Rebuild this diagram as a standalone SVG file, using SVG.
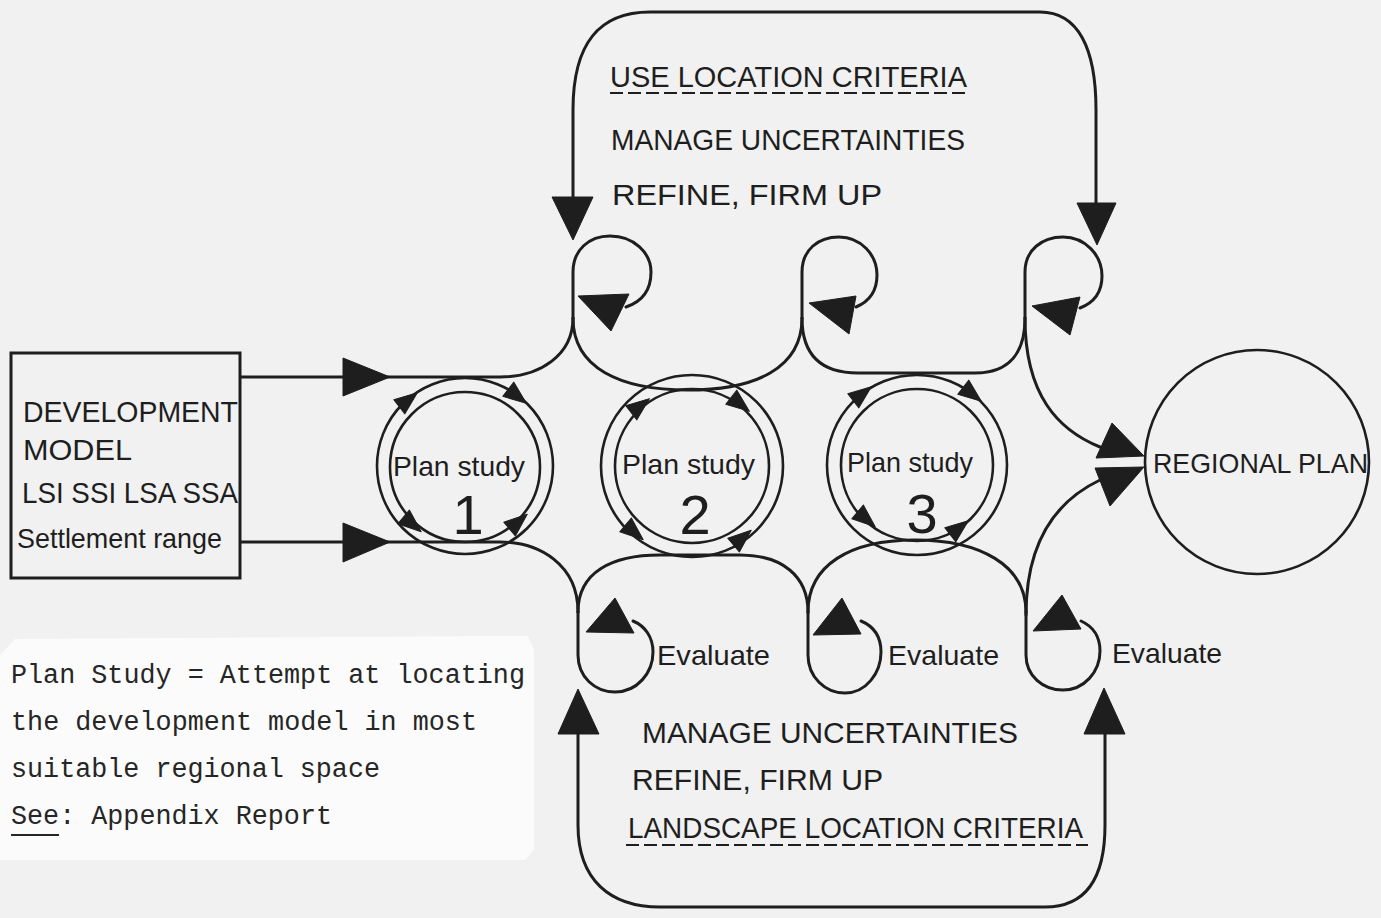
<svg xmlns="http://www.w3.org/2000/svg" xmlns:xlink="http://www.w3.org/1999/xlink" width="1381" height="918" viewBox="0 0 1381 918">
<style>
.ln{fill:none;stroke:#1e1e1e;stroke-width:3;stroke-linecap:round;stroke-linejoin:round}
.ci{fill:none;stroke:#1e1e1e;stroke-width:2.6}
.ah{fill:#1e1e1e;stroke:#1e1e1e;stroke-width:1;stroke-linejoin:round}
.t{font-family:"Liberation Sans","Arial",sans-serif;fill:#1e1e1e}
.mono{font-family:"Liberation Mono","Courier New",monospace;fill:#262626;font-size:26.8px}
.dash{fill:none;stroke:#1e1e1e;stroke-width:2.2;stroke-dasharray:13 5}
</style>
<defs>
<path id="sa" d="M12,0 L-11,-9 L-11,9 Z"/>
</defs>
<rect x="0" y="0" width="1381" height="918" fill="#f1f1f1"/>
<polygon points="0,655 15,639 528,636 534,650 534,850 525,860 0,860" fill="#fbfbfb"/>

<g id="connectors">
  <!-- inputs from development model -->
  <path class="ln" d="M241,377 H500 C540,377 573,355 573,318"/>
  <polygon class="ah" points="343,358 343,396 390,377"/>
  <path class="ln" d="M241,542 H500 C540,542 578,565 578,612"/>
  <polygon class="ah" points="343,523 343,562 390,542"/>

  <!-- top big loop -->
  <path class="ln" d="M573,200 V110 C573,42 600,12 650,12 H1040 C1078,12 1096,48 1096,110 V205"/>
  <polygon class="ah" points="552,197 593,197 573,240"/>
  <polygon class="ah" points="1077,203 1116,203 1097,245"/>

  <!-- top small loops -->
  <path class="ln" d="M573,318 V272 C573,250 589,236 610,236 C634,236 651,253 651,272 C651,291 641,302 626,307"/>
  <polygon class="ah" points="578,296 629,294 611,331"/>
  <path class="ln" d="M802,318 V272 C802,250 818,237 839,237 C861,237 877,255 877,275 C877,292 868,302 856,307"/>
  <polygon class="ah" points="809,303 856,296 849,334"/>
  <path class="ln" d="M1025,318 V272 C1025,250 1042,237 1063,237 C1085,237 1102,255 1102,276 C1102,293 1093,303 1080,308"/>
  <polygon class="ah" points="1032,306 1080,297 1070,335"/>

  <!-- top connectors between loops -->
  <path class="ln" d="M573,318 C573,368 620,390 688,390 C756,390 802,368 802,318"/>
  <path class="ln" d="M802,318 C802,352 818,373 858,373 H975 C1010,373 1025,352 1025,318"/>
  <path class="ln" d="M1025,318 C1025,395 1058,430 1100,447"/>
  <polygon class="ah" points="1096,458 1112,423 1144,456"/>

  <!-- bottom connectors between evaluate loops -->
  <path class="ln" d="M578,612 C578,572 612,555 660,555 H740 C782,555 808,576 808,612"/>
  <path class="ln" d="M808,612 C808,565 850,540 915,540 C980,540 1026,565 1026,612"/>
  <path class="ln" d="M1026,615 C1026,540 1058,500 1100,480"/>
  <polygon class="ah" points="1095,468 1144,467 1110,506"/>

  <!-- evaluate loops -->
  <path class="ln" d="M578,612 V655 C578,677 595,692 615,692 C637,692 653,673 653,652 C653,637 645,626 633,621"/>
  <polygon class="ah" points="586,632 615,598 634,633"/>
  <path class="ln" d="M808,612 V655 C808,677 825,693 845,693 C866,693 881,673 881,652 C881,636 873,626 861,621"/>
  <polygon class="ah" points="813,635 842,598 861,634"/>
  <path class="ln" d="M1026,612 V655 C1026,676 1043,690 1063,690 C1084,690 1100,672 1100,651 C1100,636 1092,626 1081,621"/>
  <polygon class="ah" points="1033,631 1062,595 1081,629"/>

  <!-- bottom big loop -->
  <path class="ln" d="M578,733 V825 C578,880 610,907 660,907 H1045 C1085,907 1105,880 1105,825 V733"/>
  <polygon class="ah" points="558,734 599,734 578,689"/>
  <polygon class="ah" points="1084,734 1125,734 1104,688"/>

  <!-- flow arrows on the plan study rings -->
  <use href="#sa" class="ah" transform="translate(408,400) rotate(-38)"/>
  <use href="#sa" class="ah" transform="translate(517,396) rotate(38)"/>
  <use href="#sa" class="ah" transform="translate(412,524) rotate(40)"/>
  <use href="#sa" class="ah" transform="translate(518,522) rotate(-40)"/>
  <use href="#sa" class="ah" transform="translate(640,406) rotate(-38)"/>
  <use href="#sa" class="ah" transform="translate(740,404) rotate(38)"/>
  <use href="#sa" class="ah" transform="translate(634,532) rotate(40)"/>
  <use href="#sa" class="ah" transform="translate(742,538) rotate(-40)"/>
  <use href="#sa" class="ah" transform="translate(862,394) rotate(-38)"/>
  <use href="#sa" class="ah" transform="translate(972,394) rotate(38)"/>
  <use href="#sa" class="ah" transform="translate(866,519) rotate(40)"/>
  <use href="#sa" class="ah" transform="translate(959,528) rotate(-38)"/>
</g>

<g id="development-model">
  <rect x="11" y="353" width="229" height="225" fill="none" stroke="#1e1e1e" stroke-width="3"/>
  <text class="t" x="23" y="422" font-size="30" textLength="215" lengthAdjust="spacingAndGlyphs">DEVELOPMENT</text>
  <text class="t" x="23" y="460" font-size="30" textLength="109" lengthAdjust="spacingAndGlyphs">MODEL</text>
  <text class="t" x="22" y="503" font-size="30" textLength="216" lengthAdjust="spacingAndGlyphs">LSI SSI LSA SSA</text>
  <text class="t" x="17" y="548" font-size="28" textLength="205" lengthAdjust="spacingAndGlyphs">Settlement range</text>
</g>

<g id="plan-study-1">
  <circle class="ci" cx="465" cy="466" r="88"/>
  <circle class="ci" cx="465" cy="467" r="75"/>
  <text class="t" x="393" y="476" font-size="28" textLength="132" lengthAdjust="spacingAndGlyphs">Plan study</text>
  <text class="t" x="468" y="534" font-size="56" text-anchor="middle">1</text>
</g>

<g id="plan-study-2">
  <circle class="ci" cx="692" cy="466" r="91"/>
  <circle class="ci" cx="692" cy="466" r="77"/>
  <text class="t" x="622" y="474" font-size="28" textLength="133" lengthAdjust="spacingAndGlyphs">Plan study</text>
  <text class="t" x="695" y="534" font-size="56" text-anchor="middle">2</text>
</g>

<g id="plan-study-3">
  <circle class="ci" cx="917" cy="465" r="90"/>
  <circle class="ci" cx="917" cy="465" r="76"/>
  <text class="t" x="847" y="472" font-size="28" textLength="126" lengthAdjust="spacingAndGlyphs">Plan study</text>
  <text class="t" x="922" y="533" font-size="56" text-anchor="middle">3</text>
</g>

<g id="regional-plan">
  <circle class="ci" cx="1257" cy="462" r="112"/>
  <text class="t" x="1153" y="473" font-size="28" textLength="215" lengthAdjust="spacingAndGlyphs">REGIONAL PLAN</text>
</g>

<g id="top-labels">
  <text class="t" x="610" y="87" font-size="29" textLength="357" lengthAdjust="spacingAndGlyphs">USE LOCATION CRITERIA</text>
  <line class="dash" x1="610" y1="93" x2="970" y2="93"/>
  <text class="t" x="611" y="150" font-size="29" textLength="354" lengthAdjust="spacingAndGlyphs">MANAGE UNCERTAINTIES</text>
  <text class="t" x="612" y="205" font-size="29" textLength="270" lengthAdjust="spacingAndGlyphs">REFINE,  FIRM  UP</text>
</g>

<g id="evaluate-labels">
  <text class="t" x="657" y="665" font-size="28" textLength="113" lengthAdjust="spacingAndGlyphs">Evaluate</text>
  <text class="t" x="888" y="665" font-size="28" textLength="111" lengthAdjust="spacingAndGlyphs">Evaluate</text>
  <text class="t" x="1112" y="663" font-size="28" textLength="110" lengthAdjust="spacingAndGlyphs">Evaluate</text>
</g>

<g id="bottom-labels">
  <text class="t" x="642" y="743" font-size="29" textLength="376" lengthAdjust="spacingAndGlyphs">MANAGE UNCERTAINTIES</text>
  <text class="t" x="632" y="790" font-size="29" textLength="251" lengthAdjust="spacingAndGlyphs">REFINE, FIRM UP</text>
  <text class="t" x="628" y="838" font-size="29" textLength="455" lengthAdjust="spacingAndGlyphs">LANDSCAPE LOCATION CRITERIA</text>
  <line class="dash" x1="626" y1="845" x2="1088" y2="845"/>
</g>

<g id="note">
  <text class="mono" x="11" y="683" textLength="514" lengthAdjust="spacingAndGlyphs">Plan Study = Attempt at locating</text>
  <text class="mono" x="11" y="730" textLength="466" lengthAdjust="spacingAndGlyphs">the development model in most</text>
  <text class="mono" x="11" y="777" textLength="369" lengthAdjust="spacingAndGlyphs">suitable regional space</text>
  <text class="mono" x="11" y="824" textLength="321" lengthAdjust="spacingAndGlyphs">See: Appendix Report</text>
  <line x1="11" y1="835" x2="59" y2="835" stroke="#262626" stroke-width="2.2"/>
</g>
</svg>
